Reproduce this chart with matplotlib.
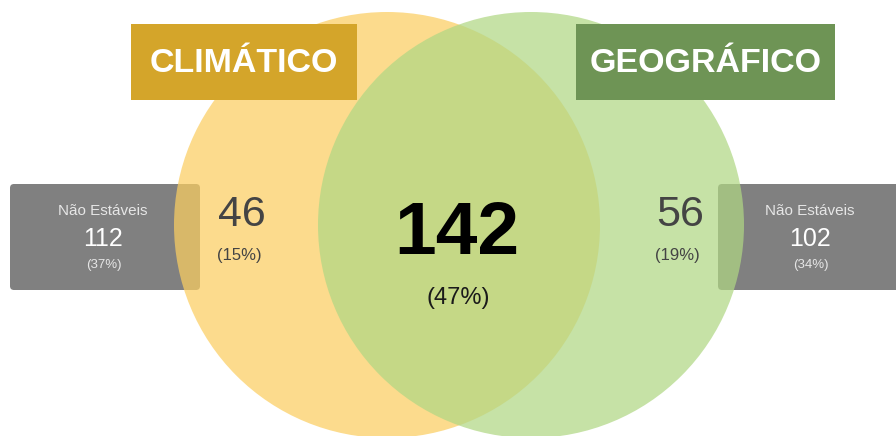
import matplotlib
matplotlib.use('Agg')
from matplotlib import pyplot as plt
from matplotlib.patches import Circle, FancyBboxPatch, Rectangle

# Data
groups = ['CLIMÁTICO', 'GEOGRÁFICO']
only_counts = [46, 56]
only_pcts = ['(15%)', '(19%)']
both_count = 142
both_pct = '(47%)'
unstable_label = 'Não Estáveis'
unstable_counts = [112, 102]
unstable_pcts = ['(37%)', '(34%)']

# Layout (pixels)
W, H = 896, 436
circle_x = [387, 531]
circle_y = 225
radius = 213
circle_colors = ['#FBCE61', '#B0D784']
title_boxes = [(131, 24, 226, 76), (576, 24, 259, 76)]
title_colors = ['#D4A52A', '#6E9455']
side_boxes = [(10, 184, 190, 106), (718, 184, 190, 106)]
side_text_x = [103, 810]
only_x = [242, 680]

plt.rcParams['font.family'] = ['Liberation Sans', 'DejaVu Sans']

fig = plt.figure(figsize=(W / 100, H / 100), dpi=100)
ax = fig.add_axes([0, 0, 1, 1])
ax.set_xlim(0, W)
ax.set_ylim(H, 0)
ax.axis('off')

# gray side boxes under the circles
for (x, y, w, h) in side_boxes:
    ax.add_patch(FancyBboxPatch((x, y), w, h, boxstyle='round,pad=0,rounding_size=4',
                                facecolor='#808080', edgecolor='none', zorder=1))

for cx, col in zip(circle_x, circle_colors):
    ax.add_patch(Circle((cx, circle_y), radius, facecolor=col, alpha=0.72,
                        edgecolor='none', zorder=2))

# title boxes
for (x, y, w, h), col, name in zip(title_boxes, title_colors, groups):
    ax.add_patch(Rectangle((x, y), w, h, facecolor=col, edgecolor='none', zorder=3))
    ax.text(x + w / 2, y + h / 2 + 1, name, color='white', fontsize=24.5, fontweight='semibold',
            ha='center', va='center', zorder=4)

# side box texts
for sx, n, p in zip(side_text_x, unstable_counts, unstable_pcts):
    ax.text(sx, 211, unstable_label, color='#e6e6e6', fontsize=11, ha='center', va='center', zorder=4)
    ax.text(sx, 239, str(n), color='white', fontsize=18, ha='center', va='center', zorder=4)
    ax.text(sx + 1, 265, p, color='#e6e6e6', fontsize=9.5, ha='center', va='center', zorder=4)

# exclusive counts
for ox, n, p in zip(only_x, only_counts, only_pcts):
    ax.text(ox, 215, str(n), color='#444444', fontsize=31, ha='center', va='center', zorder=4)
    ax.text(ox - 3, 255, p, color='#444444', fontsize=12, ha='center', va='center', zorder=4)

# intersection
ax.text(457, 234, str(both_count), color='black', fontsize=54, fontweight='bold',
        ha='center', va='center', zorder=4)
ax.text(458, 298, both_pct, color='#1a1a1a', fontsize=17, ha='center', va='center', zorder=4)

fig.savefig('out.png', dpi=100)
